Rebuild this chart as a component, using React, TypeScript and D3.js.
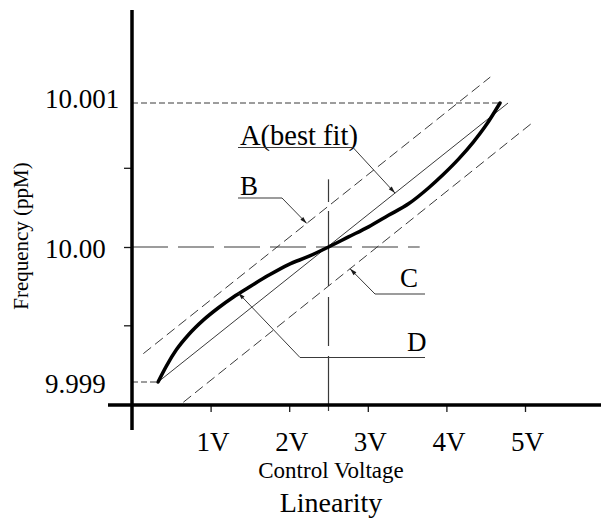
import React, { useEffect, useRef } from 'react'
import * as d3 from 'd3'

// control voltage (V) on x, frequency on y
const voltTicks = [1, 2, 3, 4, 5]
const voltLabels = ['1V', '2V', '3V', '4V', '5V']
const freqLabelValues = [9.999, 10.0, 10.001]
const freqLabels = ['9.999', '10.00', '10.001']
const freqTicks = [9.99942, 10.0, 10.00055]

// D: the measured curve
const curveVolts = [0.331, 0.439, 0.566, 0.719, 0.91, 1.1, 1.291, 1.482, 1.737, 1.991, 2.246, 2.5, 2.754, 3.009, 3.263, 3.518, 3.772, 3.963, 4.154, 4.345, 4.51, 4.682]
const curveFreq = [9.999, 9.99912, 9.99924, 9.99935, 9.99946, 9.99955, 9.99963, 9.9997, 9.99979, 9.99987, 9.99993, 10.0, 10.00007, 10.00014, 10.00022, 10.0003, 10.00041, 10.000505, 10.00061, 10.00073, 10.00085, 10.001]

// straight lines: A best fit, B upper bound, C lower bound (start, end)
const lineAVolts = [0.331, 4.784]
const lineAFreq = [9.999, 10.001]
const lineBVolts = [0.144, 4.558]
const lineBFreq = [9.99921, 10.00118]
const lineCVolts = [0.653, 5.11]
const lineCFreq = [9.99885, 10.00087]

const centerVolt = 2.5
const centerFreq = 10.0

export default function App() {
  const ref = useRef<SVGSVGElement>(null)

  useEffect(() => {
    document.body.style.margin = '0'
    const svg = d3.select(ref.current)
    svg.selectAll('*').remove()

    const font = '"Liberation Serif", "Times New Roman", serif'
    const ink = '#1a1a1a'
    const thin = '#3a3a3a'

    const x = d3.scaleLinear().domain([0, 5]).range([132, 525])
    const y = d3.scaleLinear().domain(freqLabelValues).range([382, 247, 103])
    const axisY = 405

    const straight = d3.line<[number, number]>().x(d => x(d[0])).y(d => y(d[1]))
    const smooth = d3.line<[number, number]>().x(d => x(d[0])).y(d => y(d[1])).curve(d3.curveMonotoneX)
    const pts = (vs: number[], fs: number[]) => vs.map((v, i) => [v, fs[i]] as [number, number])

    // guide lines
    const g = svg.append('g')
    g.append('line')
      .attr('x1', x(0)).attr('x2', x(curveVolts[curveVolts.length - 1]))
      .attr('y1', y(10.001)).attr('y2', y(10.001))
      .attr('stroke', thin).attr('stroke-width', 1).attr('stroke-dasharray', '6,3')
    g.append('line')
      .attr('x1', x(0)).attr('x2', x(curveVolts[0]))
      .attr('y1', y(9.999)).attr('y2', y(9.999))
      .attr('stroke', thin).attr('stroke-width', 1).attr('stroke-dasharray', '6,3')
    g.append('line')
      .attr('x1', x(0)).attr('x2', x(3.66))
      .attr('y1', y(centerFreq)).attr('y2', y(centerFreq))
      .attr('stroke', thin).attr('stroke-width', 1.2).attr('stroke-dasharray', '36,10')

    // vertical crosshair, broken where the other lines pass (drafting style)
    const vTop = y(10.00047), vBot = axisY + 6
    const gaps = [[202, 211], [286, 297], [346, 356]]
    let cur = vTop
    gaps.concat([[vBot, vBot]]).forEach(([a, b]) => {
      g.append('line')
        .attr('x1', x(centerVolt)).attr('x2', x(centerVolt))
        .attr('y1', cur).attr('y2', a)
        .attr('stroke', thin).attr('stroke-width', 1.2)
      cur = b
    })

    // bounds and best fit
    g.append('path').attr('d', straight(pts(lineBVolts, lineBFreq)))
      .attr('fill', 'none').attr('stroke', thin).attr('stroke-width', 1).attr('stroke-dasharray', '10,5')
    g.append('path').attr('d', straight(pts(lineCVolts, lineCFreq)))
      .attr('fill', 'none').attr('stroke', thin).attr('stroke-width', 1).attr('stroke-dasharray', '10,5')
    g.append('path').attr('d', straight(pts(lineAVolts, lineAFreq)))
      .attr('fill', 'none').attr('stroke', thin).attr('stroke-width', 1)

    // the measured curve
    g.append('path')
      .attr('d', smooth(pts(curveVolts, curveFreq)))
      .attr('fill', 'none').attr('stroke', '#000').attr('stroke-width', 3.5)
      .attr('stroke-linecap', 'round')

    // axes
    const xAxis = svg.append('g').attr('transform', `translate(0,${axisY})`)
      .call(d3.axisBottom(x).tickValues(voltTicks).tickSize(7).tickPadding(20)
        .tickFormat((_, i) => voltLabels[i]))
    xAxis.select('.domain').remove()
    xAxis.selectAll('line').attr('stroke', ink).attr('stroke-width', 1.3)
    xAxis.selectAll('text').attr('font-family', font).attr('font-size', 27).attr('fill', '#000').attr('dx', 2)

    const yAxis = svg.append('g').attr('transform', `translate(${x(0)},0)`)
      .call(d3.axisLeft(y).tickValues(freqTicks).tickSize(8).tickFormat(() => ''))
    yAxis.select('.domain').remove()
    yAxis.selectAll('line').attr('stroke', ink).attr('stroke-width', 1.3)

    svg.append('line').attr('x1', x(0)).attr('x2', x(0)).attr('y1', 10).attr('y2', 430)
      .attr('stroke', '#000').attr('stroke-width', 3.5)
    svg.append('line').attr('x1', 108).attr('x2', 601).attr('y1', axisY).attr('y2', axisY)
      .attr('stroke', '#000').attr('stroke-width', 3.5)

    // frequency labels, left aligned
    const labelShift = [11, 11, 5]
    svg.selectAll('text.flab').data(freqLabelValues).enter().append('text')
      .attr('class', 'flab')
      .attr('x', 45).attr('y', (d, i) => y(d) + labelShift[i])
      .attr('font-family', font).attr('font-size', 27).attr('fill', '#000')
      .text((_, i) => freqLabels[i])

    // axis titles
    svg.append('text').attr('x', 331).attr('y', 478).attr('text-anchor', 'middle')
      .attr('font-family', font).attr('font-size', 23).attr('fill', '#000').text('Control Voltage')
    svg.append('text').attr('x', 331).attr('y', 512).attr('text-anchor', 'middle')
      .attr('font-family', font).attr('font-size', 28).attr('fill', '#000').text('Linearity')
    svg.append('text').attr('transform', 'translate(28,236) rotate(-90)').attr('text-anchor', 'middle')
      .attr('font-family', font).attr('font-size', 21).attr('fill', '#000').text('Frequency (ppM)')

    // leader annotations
    const lerp = (vs: number[], fs: number[], v: number) => {
      const t = (x(v) - x(vs[0])) / (x(vs[1]) - x(vs[0]))
      return y(fs[0]) + t * (y(fs[1]) - y(fs[0]))
    }
    const notes = [
      { text: 'A(best fit)', size: 28.5, tx: 240, ty: 145, u0: 238, u1: 353, uy: 147.5, elbow: 353, tipX: x(3.346), tipY: lerp(lineAVolts, lineAFreq, 3.346) },
      { text: 'B', size: 27, tx: 240, ty: 195, u0: 238, u1: 282, uy: 198, elbow: 282, tipX: x(2.223), tipY: lerp(lineBVolts, lineBFreq, 2.223) },
      { text: 'C', size: 27, tx: 400, ty: 287, u0: 375, u1: 425, uy: 294, elbow: 375, tipX: x(2.774), tipY: lerp(lineCVolts, lineCFreq, 2.774) },
      { text: 'D', size: 27, tx: 407, ty: 351, u0: 300, u1: 425, uy: 357.5, elbow: 300, tipX: x(1.352), tipY: y(9.99966) },
    ]
    const ann = svg.append('g')
    notes.forEach(n => {
      ann.append('text').attr('x', n.tx).attr('y', n.ty)
        .attr('font-family', font).attr('font-size', n.size).attr('fill', '#000').text(n.text)
      ann.append('line').attr('x1', n.u0).attr('x2', n.u1).attr('y1', n.uy).attr('y2', n.uy)
        .attr('stroke', thin).attr('stroke-width', 1.2)
      ann.append('line').attr('x1', n.elbow).attr('y1', n.uy).attr('x2', n.tipX).attr('y2', n.tipY)
        .attr('stroke', thin).attr('stroke-width', 1)
      const ang = Math.atan2(n.tipY - n.uy, n.tipX - n.elbow)
      const len = 7, w = 2
      const bx = n.tipX - len * Math.cos(ang), by = n.tipY - len * Math.sin(ang)
      const px = -Math.sin(ang) * w, py = Math.cos(ang) * w
      ann.append('path')
        .attr('d', `M${n.tipX},${n.tipY}L${bx + px},${by + py}L${bx - px},${by - py}Z`)
        .attr('fill', ink)
    })
  }, [])

  return (
    <svg ref={ref} width={601} height={518} style={{ display: 'block', background: '#fff' }} />
  )
}
